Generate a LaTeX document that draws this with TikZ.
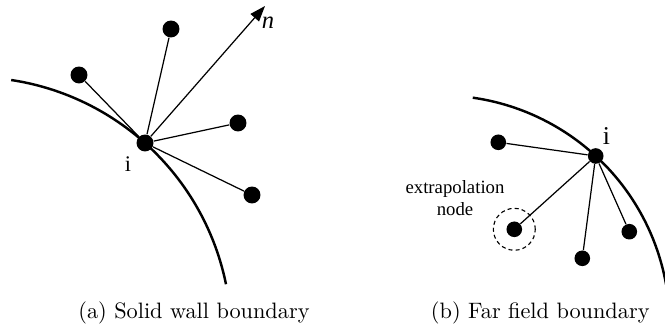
\documentclass[tikz,border=0pt]{standalone}
\usepackage{fontspec}
\newfontfamily\tms{Liberation Serif}
\usetikzlibrary{arrows.meta}
\begin{document}
\begin{tikzpicture}[x=0.4484pt,y=-0.4484pt,
  wall/.style={line width=1.1pt},
  link/.style={line width=0.55pt},
  dotL/.style={circle,fill=black,inner sep=0pt,minimum size=7.6pt},
  dotR/.style={circle,fill=black,inner sep=0pt,minimum size=7.0pt},
  halo/.style={circle,draw,dashed,line width=0.5pt,dash pattern=on 1.8pt off 1.4pt,inner sep=0pt,minimum size=18.8pt},
  lbl/.style={inner sep=0pt},
  caption/.style={anchor=base east,inner sep=0pt}]
\useasboundingbox (0,0) rectangle (665,331);

% ---- (a) solid wall boundary ----
\draw[wall] plot[domain=-81.4:-11.5,samples=90]
  ({-27.5+258.7*cos(\x)},{335.8+258.7*sin(\x)});
\node[dotL] (i1) at (145,143) {};
\node[dotL] (a1) at (171,29) {};
\node[dotL] (a2) at (79,75) {};
\node[dotL] (a3) at (238,123) {};
\node[dotL] (a4) at (252,195) {};
\coordinate (ntip) at (265,6);
\foreach \t in {a1,a2,a3,a4} \draw[link] (i1) -- (\t);
\draw[link,-{Triangle[length=7pt,width=5pt]}] (i1) -- (ntip);
\node[lbl,font=\tms\fontsize{10}{12}\selectfont] (ilab1) at (128,164) {i};
\node[lbl,font=\tms\itshape\fontsize{11}{13}\selectfont] (nlab) at (268,23) {n};

% ---- (b) far field boundary ----
\draw[wall] plot[domain=-81.9:-10,samples=90]
  ({440.5+229.1*cos(\x)},{324.5+229.1*sin(\x)});
\node[dotR] (i2) at (595.7,156) {};
\node[dotR] (b1) at (498.3,142.3) {};
\node[dotR] (b2) at (514.3,229.3) {};
\node[dotR] (b3) at (582.3,258.3) {};
\node[dotR] (b4) at (629.3,231.7) {};
\node[halo] (ring) at (b2) {};
\foreach \t in {b1,b2,b3,b4} \draw[link] (i2) -- (\t);
\node[lbl,font=\tms\fontsize{11.5}{13}\selectfont] (ilab2) at (606.5,136) {i};
\node[lbl,align=center,font=\tms\fontsize{8.4}{9.7}\selectfont] (xlab) at (455,198)
  {extrapolation\\node};

% ---- captions ----
\node[caption] (capa) at (310,319) {(a) Solid wall boundary};
\node[caption] (capb) at (650,319) {(b) Far field boundary};
\end{tikzpicture}
\end{document}
